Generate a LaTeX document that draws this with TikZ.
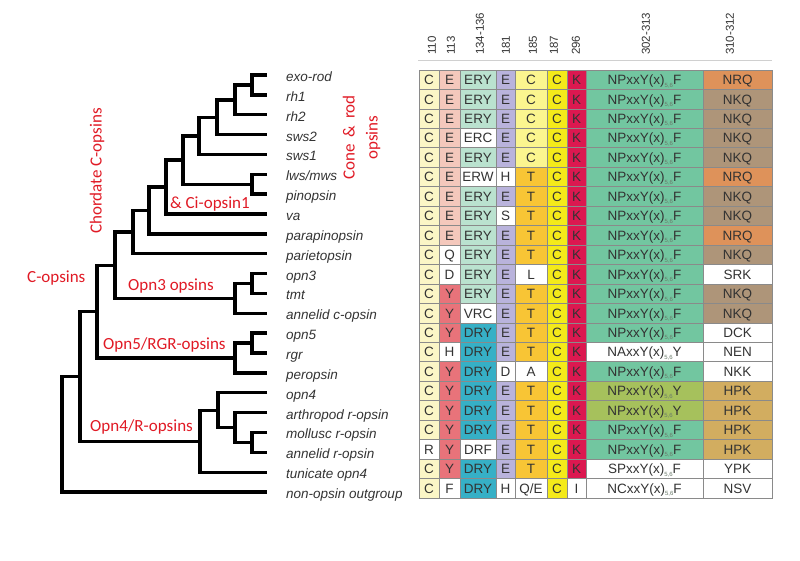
\documentclass[tikz,border=0pt]{standalone}
\usepackage{fontspec}
\setmainfont{Liberation Sans}
\newfontfamily\calfont{Carlito}
\definecolor{cA}{HTML}{FBF6C6}
\definecolor{cPk}{HTML}{F4C8BC}
\definecolor{cSal}{HTML}{E8737A}
\definecolor{cMn}{HTML}{BAE2CF}
\definecolor{cTl}{HTML}{36B0C6}
\definecolor{cLv}{HTML}{B9B3DC}
\definecolor{cPy}{HTML}{FBF58F}
\definecolor{cOr}{HTML}{F8C535}
\definecolor{cYe}{HTML}{F4EA1A}
\definecolor{cCr}{HTML}{DC1850}
\definecolor{cGr}{HTML}{72C6A0}
\definecolor{cOl}{HTML}{A6C15C}
\definecolor{cNrq}{HTML}{DE925A}
\definecolor{cNkq}{HTML}{AE9579}
\definecolor{cHpk}{HTML}{D2AD60}
\definecolor{wh}{HTML}{FFFFFF}
\definecolor{labc}{HTML}{E01A25}
\definecolor{txt}{HTML}{333333}
\definecolor{gridc}{HTML}{8A8A8A}
\definecolor{subc}{HTML}{6A7A6A}
\newcommand\mot[2]{#1xxY(x)\raisebox{-2.5pt}[0pt][0pt]{\fontsize{6}{6}\selectfont\color{subc}5,6}#2}
\newcommand\qe{Q/E}
\begin{document}
\begin{tikzpicture}[x=1pt,y=-1pt,
  branch/.style={line width=3.4pt, line join=miter, line cap=butt},
  sp/.style={anchor=base west, inner sep=0pt, text=txt, font=\fontsize{13.5}{14}\selectfont\itshape},
  hdr/.style={rotate=90, anchor=west, inner sep=0pt, text=txt, font=\fontsize{11.5}{12}\selectfont},
  grp/.style={inner sep=0pt, text=labc, font=\calfont\fontsize{17}{23}\selectfont},
  cell/.style={draw=gridc, line width=0.7pt, inner sep=0pt, text=txt, minimum height=19.4545pt, text height=9.7pt, text depth=0pt, font=\fontsize{13.5}{14}\selectfont}]
\useasboundingbox (0,0) rectangle (800,560);
% leaves
\foreach \i/\n in {0/exo-rod,1/rh1,2/rh2,3/sws2,4/sws1,5/lws\slash mws,6/pinopsin,7/va,8/parapinopsin,9/parietopsin,10/opn3,11/tmt,12/annelid c-opsin,13/opn5,14/rgr,15/peropsin,16/opn4,17/arthropod r-opsin,18/mollusc r-opsin,19/annelid r-opsin,20/tunicate opn4,21/non-opsin outgroup}{
  \coordinate (l\i) at (267,{75+19.86*\i});
  \node[sp] (t\i) at (286,{81.5+19.86*\i}) {\n};
}
% internal nodes
\coordinate (a) at (252,84.9);
\coordinate (b) at (235,99.8);
\coordinate (c) at (217,117.2);
\coordinate (d) at (199,135.8);
\coordinate (e) at (252,184.2);
\coordinate (f) at (183,160);
\coordinate (g) at (166,187);
\coordinate (h) at (149,210.5);
\coordinate (i) at (133,232.1);
\coordinate (j) at (252,283.5);
\coordinate (k) at (235,298.4);
\coordinate (m) at (115,265.3);
\coordinate (o) at (252,343.1);
\coordinate (p) at (235,358);
\coordinate (q) at (97,311.7);
\coordinate (r) at (252,442.4);
\coordinate (s) at (235,427.5);
\coordinate (t) at (218,410.2);
\coordinate (u) at (200,441.2);
\coordinate (v) at (80,376.4);
\coordinate (w) at (62,434.2);
\draw[branch] (l0) -| (a) |- (l1);
\draw[branch] (a) -| (b) |- (l2);
\draw[branch] (b) -| (c) |- (l3);
\draw[branch] (c) -| (d) |- (l4);
\draw[branch] (l5) -| (e) |- (l6);
\draw[branch] (d) -| (f) |- (e);
\draw[branch] (f) -| (g) |- (l7);
\draw[branch] (g) -| (h) |- (l8);
\draw[branch] (h) -| (i) |- (l9);
\draw[branch] (l10) -| (j) |- (l11);
\draw[branch] (j) -| (k) |- (l12);
\draw[branch] (i) -| (m) |- (k);
\draw[branch] (l13) -| (o) |- (l14);
\draw[branch] (o) -| (p) |- (l15);
\draw[branch] (m) -| (q) |- (p);
\draw[branch] (l18) -| (r) |- (l19);
\draw[branch] (l17) -| (s) |- (r);
\draw[branch] (l16) -| (t) |- (s);
\draw[branch] (t) -| (u) |- (l20);
\draw[branch] (q) -| (v) |- (u);
\draw[branch] (v) -| (w) |- (l21);
% group labels
\node[grp, rotate=90] (gchord) at (97,171) {Chordate C-opsins};
\node[grp, rotate=90, align=center] (gcone) at (361.5,137.5) {Cone\hspace{7pt}\&\hspace{7pt}rod\\opsins};
\node[grp, anchor=west] (gci) at (170,204) {\& Ci-opsin1};
\node[grp, anchor=west] (gc) at (27,278) {C-opsins};
\node[grp, anchor=west] (g3) at (128,286) {Opn3 opsins};
\node[grp, anchor=west] (g5) at (103,345) {Opn5/RGR-opsins};
\node[grp, anchor=west] (g4) at (90,427) {Opn4/R-opsins};
% header
\foreach \x/\s [count=\n] in {432/110,451/113,480/134-136,506/181,533/185,554/187,576/296,646/302-313,730/310-312}{
  \node[hdr] (h\n) at (\x,55) {\s};
}
\draw[gridc!40, line width=0.8pt] (418,60) -- (772,60);
% table
\def\colx{{419,439,460,496,515,547,567,586,703,772}}
\foreach \r/\cells in {
 0/{C/cA,E/cPk,ERY/cMn,E/cLv,C/cPy,C/cYe,K/cCr,\mot{NP}{F}/cGr,NRQ/cNrq},
 1/{C/cA,E/cPk,ERY/cMn,E/cLv,C/cPy,C/cYe,K/cCr,\mot{NP}{F}/cGr,NKQ/cNkq},
 2/{C/cA,E/cPk,ERY/cMn,E/cLv,C/cPy,C/cYe,K/cCr,\mot{NP}{F}/cGr,NKQ/cNkq},
 3/{C/cA,E/cPk,ERC/wh,E/cLv,C/cPy,C/cYe,K/cCr,\mot{NP}{F}/cGr,NKQ/cNkq},
 4/{C/cA,E/cPk,ERY/cMn,E/cLv,C/cPy,C/cYe,K/cCr,\mot{NP}{F}/cGr,NKQ/cNkq},
 5/{C/cA,E/cPk,ERW/wh,H/wh,T/cOr,C/cYe,K/cCr,\mot{NP}{F}/cGr,NRQ/cNrq},
 6/{C/cA,E/cPk,ERY/cMn,E/cLv,T/cOr,C/cYe,K/cCr,\mot{NP}{F}/cGr,NKQ/cNkq},
 7/{C/cA,E/cPk,ERY/cMn,S/wh,T/cOr,C/cYe,K/cCr,\mot{NP}{F}/cGr,NKQ/cNkq},
 8/{C/cA,E/cPk,ERY/cMn,E/cLv,T/cOr,C/cYe,K/cCr,\mot{NP}{F}/cGr,NRQ/cNrq},
 9/{C/cA,Q/wh,ERY/cMn,E/cLv,T/cOr,C/cYe,K/cCr,\mot{NP}{F}/cGr,NKQ/cNkq},
 10/{C/cA,D/wh,ERY/cMn,E/cLv,L/wh,C/cYe,K/cCr,\mot{NP}{F}/cGr,SRK/wh},
 11/{C/cA,Y/cSal,ERY/cMn,E/cLv,T/cOr,C/cYe,K/cCr,\mot{NP}{F}/cGr,NKQ/cNkq},
 12/{C/cA,Y/cSal,VRC/wh,E/cLv,T/cOr,C/cYe,K/cCr,\mot{NP}{F}/cGr,NKQ/cNkq},
 13/{C/cA,Y/cSal,DRY/cTl,E/cLv,T/cOr,C/cYe,K/cCr,\mot{NP}{F}/cGr,DCK/wh},
 14/{C/cA,H/wh,DRY/cTl,E/cLv,T/cOr,C/cYe,K/cCr,\mot{NA}{Y}/wh,NEN/wh},
 15/{C/cA,Y/cSal,DRY/cTl,D/wh,A/wh,C/cYe,K/cCr,\mot{NP}{F}/cGr,NKK/wh},
 16/{C/cA,Y/cSal,DRY/cTl,E/cLv,T/cOr,C/cYe,K/cCr,\mot{NP}{Y}/cOl,HPK/cHpk},
 17/{C/cA,Y/cSal,DRY/cTl,E/cLv,T/cOr,C/cYe,K/cCr,\mot{NP}{Y}/cOl,HPK/cHpk},
 18/{C/cA,Y/cSal,DRY/cTl,E/cLv,T/cOr,C/cYe,K/cCr,\mot{NP}{F}/cGr,HPK/cHpk},
 19/{R/wh,Y/cSal,DRF/wh,E/cLv,T/cOr,C/cYe,K/cCr,\mot{NP}{F}/cGr,HPK/cHpk},
 20/{C/cA,Y/cSal,DRY/cTl,E/cLv,T/cOr,C/cYe,K/cCr,\mot{SP}{F}/wh,YPK/wh},
 21/{C/cA,F/wh,DRY/cTl,H/wh,\qe/wh,C/cYe,I/wh,\mot{NC}{F}/wh,NSV/wh}}{
  \foreach \t/\f [count=\c from 0] in \cells {
    \pgfmathsetmacro\xa{\colx[\c]}
    \pgfmathsetmacro\xb{\colx[\c+1]}
    \pgfmathsetmacro\cw{\xb-\xa}
    \node[cell, fill=\f, minimum width=\cw pt] (c\r-\c) at ({(\xa+\xb)/2},{70+19.4545*(\r+0.5)}) {\t};
  }
}
\end{tikzpicture}
\end{document}
